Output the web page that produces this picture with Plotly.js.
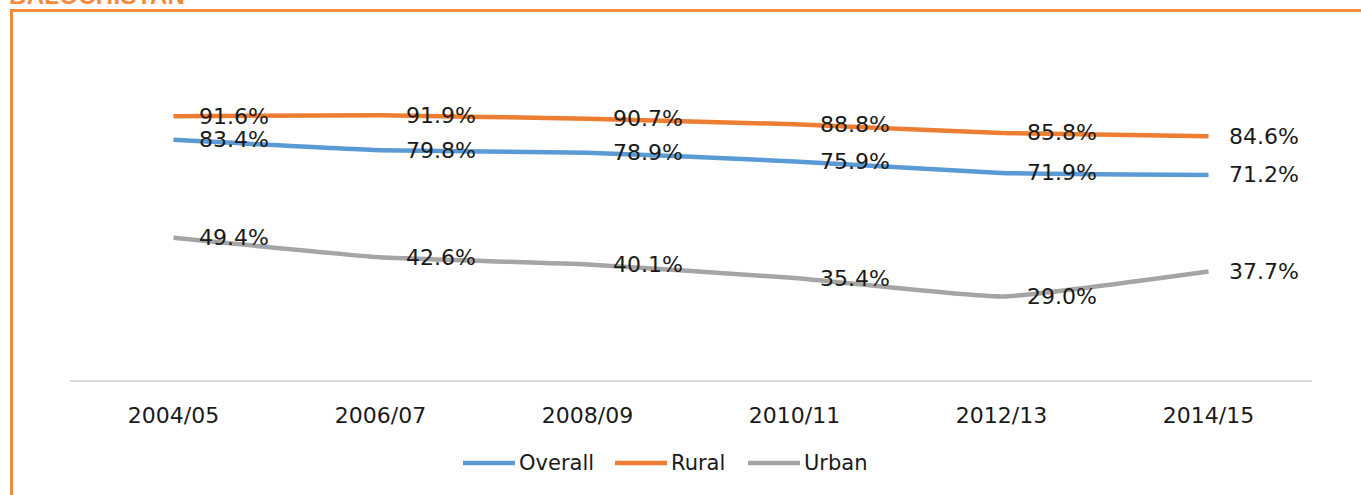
<!DOCTYPE html>
<html>
<head>
<meta charset="utf-8">
<script src="https://cdn.plot.ly/plotly-3.0.1.min.js"></script>
<style>
  html, body { margin: 0; padding: 0; background: #fff; width: 1361px; height: 495px; overflow: hidden; }
  #wrap { position: relative; width: 1361px; height: 495px; }
  #title { position: absolute; left: 9px; top: -18px; font-family: "Liberation Sans", Arial, sans-serif; font-weight: 700; font-size: 24px; color: #F58A3A; letter-spacing: 0.3px; line-height: 28px; }
  #frame { position: absolute; left: 10px; top: 9px; right: 0; bottom: 0; border-top: 3px solid #F58A3A; border-left: 3px solid #F58A3A; }
  #chart { position: absolute; left: 0; top: 0; }
</style>
</head>
<body>
<div id="wrap">
  <div id="title">BALOCHISTAN</div>
  <div id="frame"></div>
  <div id="chart"></div>
</div>
<script>
const categories = ["2004/05", "2006/07", "2008/09", "2010/11", "2012/13", "2014/15"];
const overall = [83.4, 79.8, 78.9, 75.9, 71.9, 71.2];
const rural   = [91.6, 91.9, 90.7, 88.8, 85.8, 84.6];
const urban   = [49.4, 42.6, 40.1, 35.4, 29.0, 37.7];
const seriesNames = ["Overall", "Rural", "Urban"];

const series = [
  { name: seriesNames[0], values: overall, color: "#5B9BD5" },
  { name: seriesNames[1], values: rural,   color: "#ED7D31" },
  { name: seriesNames[2], values: urban,   color: "#A5A5A5" }
];

// plot-area geometry in pixels (for the custom legend)
const M = { l: 70, r: 49, t: 92, b: 115 };
const W = 1361, H = 495;
const pw = W - M.l - M.r, ph = H - M.t - M.b;
const px2x = px => (px - M.l) / pw;
const py2y = py => (H - M.b - py) / ph;

const traces = series.map(s => ({
  type: "scatter",
  mode: "lines",
  x: categories,
  y: s.values,
  name: s.name,
  line: { color: s.color, width: 4.5, shape: "spline", smoothing: 0.4 },
  hoverinfo: "skip",
  showlegend: false
}));

const annotations = [];
series.forEach(s => {
  s.values.forEach((v, i) => {
    annotations.push({
      x: categories[i], y: v, xref: "x", yref: "y",
      text: v.toFixed(1) + "%",
      showarrow: false,
      xanchor: "left", yanchor: "middle",
      xshift: i === categories.length - 1 ? 18 : 23,
      font: { family: "DejaVu Sans, sans-serif", size: 22, color: "#1a1a1a" }
    });
  });
});

// custom legend (long line keys like the reference)
const legendLineStarts = [463, 615, 748];
const legendKeyLen = 52;
const legendY = 463;
const shapes = [];
series.forEach((s, k) => {
  const x0 = legendLineStarts[k];
  shapes.push({
    type: "line", xref: "paper", yref: "paper",
    x0: px2x(x0), x1: px2x(x0 + legendKeyLen),
    y0: py2y(legendY), y1: py2y(legendY),
    line: { color: s.color, width: 4.5 }
  });
  annotations.push({
    xref: "paper", yref: "paper",
    x: px2x(x0 + legendKeyLen + 2), y: py2y(legendY),
    xanchor: "left", yanchor: "middle",
    text: s.name, showarrow: false,
    font: { family: "DejaVu Sans, sans-serif", size: 21, color: "#1a1a1a" }
  });
});

const layout = {
  width: W, height: H,
  margin: M,
  paper_bgcolor: "rgba(0,0,0,0)",
  plot_bgcolor: "rgba(0,0,0,0)",
  showlegend: false,
  xaxis: {
    type: "category",
    range: [-0.5, categories.length - 0.5],
    showline: true, linecolor: "#D9D9D9", linewidth: 1.5,
    showgrid: false, zeroline: false, ticks: "",
    ticklabelstandoff: 15,
    tickfont: { family: "DejaVu Sans, sans-serif", size: 22, color: "#1a1a1a" },
    fixedrange: true
  },
  yaxis: {
    range: [0, 100], visible: false, showgrid: false, zeroline: false, fixedrange: true
  },
  shapes: shapes,
  annotations: annotations
};

Plotly.newPlot("chart", traces, layout, { displayModeBar: false, staticPlot: true });
</script>
</body>
</html>
